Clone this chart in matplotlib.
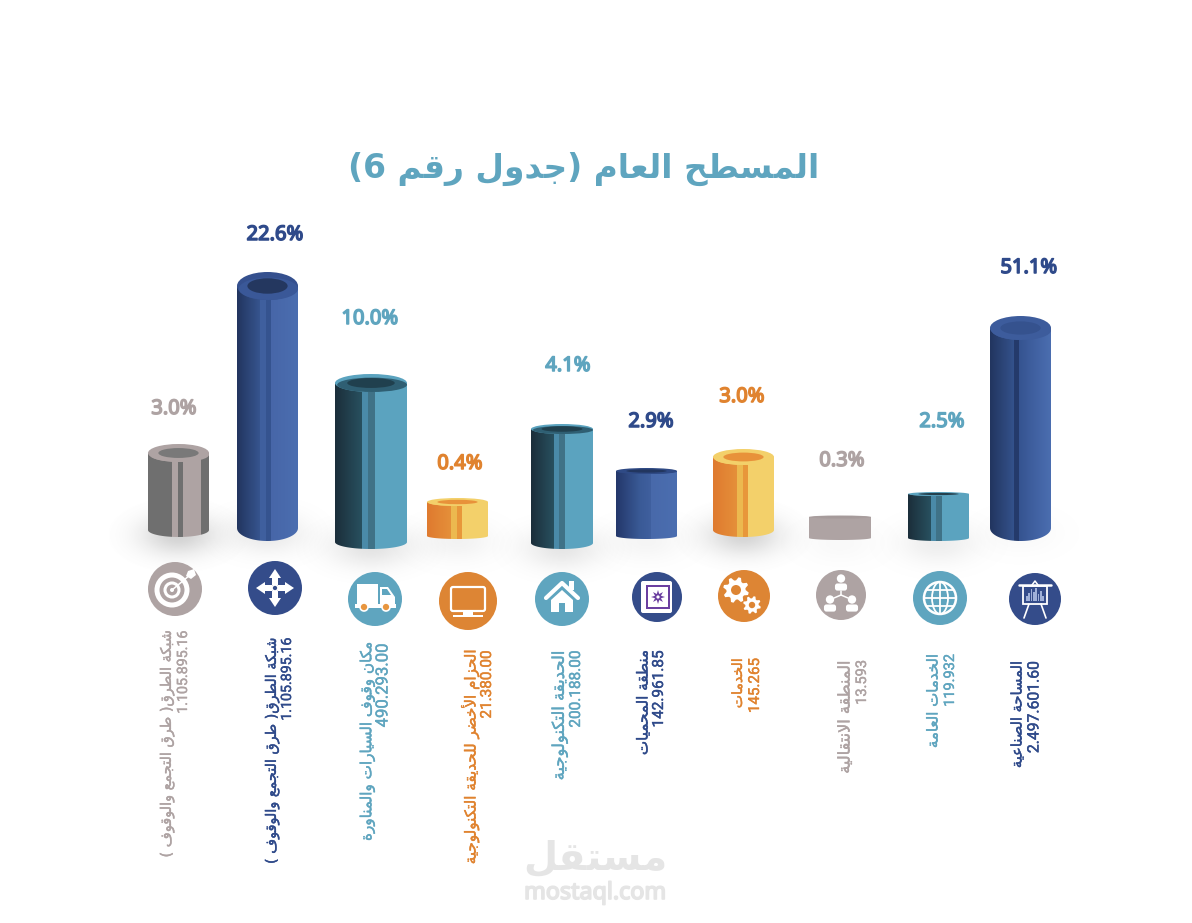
import re
import numpy as np
import matplotlib
matplotlib.use('Agg')
import matplotlib.pyplot as plt
import matplotlib.patheffects as pe
from matplotlib.colors import to_rgb
from matplotlib.patches import Circle, Ellipse, Polygon, Rectangle, FancyBboxPatch

# chart values
names = ['شبكة الطرق( طرق التجمع والوقوف )', 'شبكة الطرق( طرق التجمع والوقوف )',
         'مكان وقوف السيارات والمناورة', 'الحزام الأخضر للحديقة التكنولوجية',
         'الحديقة التكنولوجية', 'منطقة المحميات', 'الخدمات',
         'المنطقة الانتقالية', 'الخدمات العامة', 'المساحة الصناعية']
amounts = ['1.105.895.16', '1.105.895.16', '490.293.00', '21.380.00', '200.188.00',
           '142.961.85', '145.265', '13.593', '119.932', '2.497.601.60']
percents = ['3.0%', '22.6%', '10.0%', '0.4%', '4.1%', '2.9%', '3.0%', '0.3%', '2.5%', '51.1%']
# drawn column heights, these do not follow the percentages
column_heights = [77, 242, 159, 34, 114, 65, 73, 21, 44, 200]
families = ['gray', 'navy', 'teal', 'orange', 'teal', 'navy', 'orange', 'gray', 'teal', 'navy']

# column layout
col_left = [148, 237, 335, 427, 531, 616, 713, 809, 908, 990]
col_right = [209, 298, 407, 488, 593, 677, 774, 871, 969, 1051]
col_base = [530, 528, 542, 536, 543, 536, 530, 538, 538, 528]
cap_ry = [9, 14, 9, 4, 5, 3, 8, 1.5, 2, 12]
base_ry = [7, 13, 7, 3, 6, 3, 7, 2, 3, 13]
shadow_alpha = [.36, .18, .22, .1, .2, .08, .34, .05, .14, .05]

# label layout
pct_x = [174, 275, 370, 460, 568, 651, 742, 842, 942, 1029]
pct_y = [409, 235, 319, 464, 366, 422, 397, 461, 422, 268]
icon_x = [175, 275, 375, 468, 562, 657, 744, 841, 940, 1035]
icon_y = [589, 588, 599, 601, 599, 597, 596, 595, 598, 599]
icon_r = [27, 27, 27, 29, 27, 25, 26, 25, 27, 26]
name_x = [167, 272, 367, 470, 560, 643, 738, 845, 933, 1017]
amount_x = [183, 287, 383, 487, 576, 659, 755, 862, 950, 1034]
label_top = [630, 637, 643, 650, 650, 650, 658, 660, 654, 661]
name_len = [227, 226, 199, 215, 130, 105, 50, 113, 94, 107]
amount_len = [83, 83, 84, 68, 77, 77, 55, 45, 53, 92]

label_colors = {'gray': '#aea3a3', 'navy': '#2f4a8a', 'teal': '#5fa5bf', 'orange': '#e0832f'}
icon_colors = {'gray': '#aea3a3', 'navy': '#344c8a', 'teal': '#5fa5bf', 'orange': '#dd8534'}

# side shading per column as (fraction of width, colour)
NAVY = [(0, '#22355f'), (.38, '#37558f'), (.38, '#3f5f9e'), (.48, '#3f5f9e'), (.48, '#35538f'),
        (.56, '#35538f'), (.56, '#4766a8'), (1, '#4b6eb0')]
NAVY_SOFT = [(0, '#23376a'), (.39, '#3a5a96'), (.5, '#3d5d9b'), (.57, '#40609f'), (.57, '#4869aa'), (1, '#4b6eb0')]
NAVY_LINE = [(0, '#22355f'), (.39, '#34528c'), (.39, '#243a6b'), (.47, '#243a6b'), (.47, '#35538f'),
             (.7, '#3f5f9f'), (1, '#4b6eb0')]
TEAL = [(0, '#1b2e3a'), (.37, '#28505f'), (.37, '#4a8aa8'), (.46, '#4a8aa8'), (.46, '#3f7287'),
        (.555, '#3f7287'), (.555, '#5ba3bf'), (1, '#5ba3bf')]
GRAY = [(0, '#6f6f6f'), (.4, '#6f6f6f'), (.4, '#aea3a3'), (.49, '#aea3a3'), (.49, '#6f6f6f'),
        (.58, '#6f6f6f'), (.58, '#aea3a3'), (.87, '#aea3a3'), (.87, '#6f6f6f'), (1, '#6f6f6f')]
FLAT_GRAY = [(0, '#aea3a3'), (1, '#aea3a3')]
ORANGE = [(0, '#df7a2f'), (.4, '#e5903a'), (.4, '#ecb94f'), (.49, '#ecb94f'), (.49, '#e8973a'),
          (.58, '#e8973a'), (.58, '#f3d06a'), (1, '#f3d06a')]
shades = [GRAY, NAVY, TEAL, ORANGE, TEAL, NAVY_SOFT, ORANGE, FLAT_GRAY, TEAL, NAVY_LINE]
# cap rim, cap hole and front of the rim per column
caps = [('#aea3a3', '#797979', '#aea3a3'), ('#35508e', '#24375f', '#3a5898'), ('#5ba3bf', '#20404e', '#2f5f73'),
        ('#f3d06a', '#e8923a', '#f3d06a'), ('#5ba3bf', '#20404e', '#2f5f73'), ('#2f4a85', '#22365f', '#2f4a85'),
        ('#f3d06a', '#e8923a', '#f3d06a'), ('#a89d9d', '#a59a9a', '#a89d9d'), ('#5ba3bf', '#25404d', '#5ba3bf'),
        ('#3d5c9c', '#35528e', '#3d5c9c')]

# DejaVu only has the presentation forms, so the words get shaped by hand
FORM_START = {'ا': (0xFE8D, 2), 'أ': (0xFE83, 2), 'ب': (0xFE8F, 4), 'ة': (0xFE93, 2), 'ت': (0xFE95, 4),
              'ج': (0xFE9D, 4), 'ح': (0xFEA1, 4), 'خ': (0xFEA5, 4), 'د': (0xFEA9, 2), 'ذ': (0xFEAB, 2),
              'ر': (0xFEAD, 2), 'ز': (0xFEAF, 2), 'س': (0xFEB1, 4), 'ش': (0xFEB5, 4), 'ص': (0xFEB9, 4),
              'ض': (0xFEBD, 4), 'ط': (0xFEC1, 4), 'ع': (0xFEC9, 4), 'ف': (0xFED1, 4), 'ق': (0xFED5, 4),
              'ك': (0xFED9, 4), 'ل': (0xFEDD, 4), 'م': (0xFEE1, 4), 'ن': (0xFEE5, 4), 'و': (0xFEED, 2),
              'ي': (0xFEF1, 4)}
LAM_ALEF = {'ا': 0xFEFB, 'أ': 0xFEF7}


def arabic(text):
    out = []
    i = 0
    while i < len(text):
        ch = text[i]
        if ch not in FORM_START:
            out.append(ch)
            i += 1
            continue
        prev = text[i - 1] if i else ' '
        joined = prev in FORM_START and FORM_START[prev][1] == 4
        nxt = text[i + 1] if i + 1 < len(text) else ' '
        if ch == 'ل' and nxt in LAM_ALEF:
            out.append(chr(LAM_ALEF[nxt] + joined))
            i += 2
            continue
        start, count = FORM_START[ch]
        if count == 2 or nxt not in FORM_START:
            form = 1 if joined else 0
        else:
            form = 3 if joined else 2
        out.append(chr(start + form))
        i += 1
    shaped = ''.join(reversed(out)).translate(str.maketrans('()', ')('))
    return re.sub(r'\d+', lambda m: m.group()[::-1], shaped)


fig = plt.figure(figsize=(11.92, 9.23), dpi=100, facecolor='white')
ax = fig.add_axes([0, 0, 1, 1])
ax.set_xlim(0, 1192)
ax.set_ylim(923, 0)
ax.set_autoscale_on(False)
ax.axis('off')
renderer = fig.canvas.get_renderer()


def fit(t, length, vertical=False):
    bb = t.get_window_extent(renderer)
    t.set_fontsize(t.get_fontsize() * length / (bb.height if vertical else bb.width))


def heavier(t, width, color):
    t.set_path_effects([pe.withStroke(linewidth=width, foreground=color)])


def profile(stops):
    fr = [s[0] for s in stops]
    cols = np.array([to_rgb(s[1]) for s in stops])
    xs = np.linspace(0, 1, 240)
    return np.stack([np.interp(xs, fr, cols[:, k]) for k in range(3)], axis=1)[None, :, :]


def soft_shadow(cx, cy, rx, ry, alpha):
    yy, xx = np.mgrid[-1:1:120j, -1:1:200j]
    fall = np.exp(-(xx ** 2 + yy ** 2) * 3.6)
    fall[xx ** 2 + yy ** 2 > 1] = 0
    img = np.zeros(fall.shape + (4,))
    img[..., :3] = .52
    img[..., 3] = fall * alpha
    ax.imshow(img, extent=(cx - rx, cx + rx, cy + ry, cy - ry), aspect='auto', zorder=1, interpolation='bilinear')


def column(i):
    x0, x1 = col_left[i], col_right[i]
    cx, rx = (x0 + x1) / 2, (x1 - x0) / 2
    by = col_base[i]
    cy = by - column_heights[i]
    soft_shadow(cx, by + 5, rx + 40, 38, shadow_alpha[i])

    t = np.linspace(0, np.pi, 60)
    arc = np.column_stack([cx - rx * np.cos(t), by + base_ry[i] * np.sin(t)])
    pts = np.vstack([[x0, cy], arc, [x1, cy]])
    clip = Polygon(pts, closed=True, fc='none', ec='none', transform=ax.transData)
    ax.add_patch(clip)
    im = ax.imshow(profile(shades[i]), extent=(x0, x1, by + base_ry[i] + 1, cy), aspect='auto', zorder=2,
                   interpolation='nearest')
    im.set_clip_path(clip)

    rim, hole, front = caps[i]
    ry = cap_ry[i]
    ax.add_patch(Ellipse((cx, cy), 2 * rx, 2 * ry, fc=rim, ec='none', zorder=3))
    ax.add_patch(Ellipse((cx + rx * .03, cy + ry * .2), 2 * rx * .97, 2 * ry * .8, fc=front, ec='none', zorder=3.5))
    ax.add_patch(Ellipse((cx, cy), 1.32 * rx, 1.1 * ry, fc=hole, ec='none', zorder=4))


# icon glyphs, all white unless noted, drawn around the icon centre
def ring(cx, cy, r, lw):
    ax.add_patch(Circle((cx, cy), r, fc='none', ec='white', lw=lw, zorder=6))


def fill(pts, color='white'):
    ax.add_patch(Polygon(pts, closed=True, fc=color, ec='none', zorder=6))


def box(x, y, w, h, color='white'):
    ax.add_patch(Rectangle((x, y), w, h, fc=color, ec='none', zorder=6))


def line(xs, ys, lw=1.4, color='white'):
    ax.plot(xs, ys, color=color, lw=lw, zorder=6, solid_capstyle='round')


def gear(cx, cy, r, teeth, hole):
    ang = np.linspace(0, 2 * np.pi, teeth * 4, endpoint=False) + .2
    rad = np.tile([r, r, r * .74, r * .74], teeth)
    fill(np.column_stack([cx + rad * np.cos(ang), cy + rad * np.sin(ang)]))
    ax.add_patch(Circle((cx, cy), hole, fc='#dd8534', ec='none', zorder=7))


def person(cx, cy, s):
    ax.add_patch(Circle((cx, cy - 5 * s), 3.8 * s, fc='white', ec='none', zorder=6))
    ax.add_patch(FancyBboxPatch((cx - 5.5 * s, cy - .5 * s), 11 * s, 6.5 * s, boxstyle='round,pad=0,rounding_size=2.5',
                                fc='white', ec='none', zorder=6))


def icon_target(x, y):
    ring(x - 3, y + 1, 15, 3.6)
    ring(x - 3, y + 1, 7, 2.2)
    ax.add_patch(Circle((x - 3, y + 1), 2, fc='white', ec='none', zorder=6))
    line([x - 3, x + 15], [y + 1, y - 14], lw=1.1)
    fill([(x + 13, y - 18), (x + 19, y - 20), (x + 21, y - 14), (x + 16, y - 10), (x + 11, y - 13)])


def icon_arrows(x, y):
    for dx, dy in [(1, 0), (-1, 0), (0, 1), (0, -1)]:
        px, py = -dy, dx
        tip = (x + 19 * dx, y + 19 * dy)
        fill([tip, (x + 10 * dx + 6 * px, y + 10 * dy + 6 * py), (x + 10 * dx - 6 * px, y + 10 * dy - 6 * py)])
        fill([(x + 3 * dx + 3 * px, y + 3 * dy + 3 * py), (x + 11 * dx + 3 * px, y + 11 * dy + 3 * py),
              (x + 11 * dx - 3 * px, y + 11 * dy - 3 * py), (x + 3 * dx - 3 * px, y + 3 * dy - 3 * py)])
    ring(x, y, 3, 1.2)


def icon_truck(x, y):
    box(x - 18, y - 15, 21, 20)
    fill([(x + 5, y - 12), (x + 13, y - 12), (x + 20, y - 2), (x + 20, y + 6), (x + 5, y + 6)])
    fill([(x + 7, y - 10), (x + 12, y - 10), (x + 16, y - 4), (x + 7, y - 4)], '#5fa5bf')
    box(x - 20, y + 5, 41, 4)
    for wx in (x - 11, x + 11):
        ax.add_patch(Circle((wx, y + 8), 4, fc='#e8963f', ec='white', lw=1.2, zorder=7))


def icon_monitor(x, y):
    ax.add_patch(FancyBboxPatch((x - 17, y - 14), 34, 24, boxstyle='round,pad=0,rounding_size=2',
                                fc='none', ec='white', lw=1.6, zorder=6))
    box(x - 5, y + 10, 10, 4)
    box(x - 15, y + 14, 30, 2.4)


def icon_house(x, y):
    line([x - 16, x, x + 16], [y - 1, y - 16, y - 1], lw=3)
    box(x + 7, y - 18, 5, 9)
    fill([(x - 11, y + 1), (x, y - 9), (x + 11, y + 1), (x + 11, y + 13), (x + 3, y + 13), (x + 3, y + 4),
          (x - 3, y + 4), (x - 3, y + 13), (x - 11, y + 13)])


def icon_safe(x, y):
    ax.add_patch(FancyBboxPatch((x - 16, y - 16), 31, 32, boxstyle='round,pad=0,rounding_size=2',
                                fc='white', ec='none', zorder=6))
    box(x - 11, y - 12, 24, 24, '#6b3fa0')
    box(x - 9, y - 10, 20, 20, 'white')
    ang = np.linspace(0, 2 * np.pi, 16, endpoint=False)
    rad = np.tile([7, 3.2], 8)
    fill(np.column_stack([x + 1 + rad * np.cos(ang), y + rad * np.sin(ang)]), '#6b3fa0')
    ax.add_patch(Circle((x + 1, y), 1.6, fc='white', ec='none', zorder=7))


def icon_gears(x, y):
    gear(x - 8, y - 6, 13, 8, 5)
    gear(x + 8, y + 9, 9, 8, 3.2)


def icon_people(x, y):
    person(x, y - 11, 1.1)
    person(x - 11, y + 10, 1.1)
    person(x + 11, y + 10, 1.1)
    line([x, x, x - 7], [y - 4, y, y + 3], lw=1.1)
    line([x, x + 7], [y, y + 3], lw=1.1)


def icon_globe(x, y):
    r = 16
    ax.add_patch(Ellipse((x, y), 2 * r, 2 * r, fc='none', ec='white', lw=1.8, zorder=6))
    ax.add_patch(Ellipse((x, y), r, 2 * r, fc='none', ec='white', lw=1.3, zorder=6))
    line([x, x], [y - r, y + r], lw=1.3)
    line([x - r, x + r], [y, y], lw=1.3)
    line([x - 13, x + 13], [y - 8, y - 8], lw=1.3)
    line([x - 13, x + 13], [y + 8, y + 8], lw=1.3)


def icon_board(x, y):
    line([x - 16, x + 16], [y - 14, y - 14], lw=1.8)
    ax.add_patch(Rectangle((x - 12, y - 13), 24, 18, fc='none', ec='white', lw=1.3, zorder=6))
    for k, h in enumerate([5, 8, 12, 9, 13, 7, 10, 5]):
        box(x - 9 + k * 2.3, y + 2 - h, 1.8, h, '#9fb0d8')
    line([x - 6, x - 11], [y + 5, y + 19], lw=1.2)
    line([x + 6, x + 11], [y + 5, y + 19], lw=1.2)
    line([x - 3, x, x + 3], [y - 14, y - 18, y - 14], lw=1.1)


icon_draw = [icon_target, icon_arrows, icon_truck, icon_monitor, icon_house,
             icon_safe, icon_gears, icon_people, icon_globe, icon_board]

title = ax.text(583.5, 169, arabic('المسطح العام (جدول رقم 6)'), color='#5fa5bf', fontsize=30,
                family='DejaVu Sans', weight='bold', ha='center', va='center', zorder=8)
fit(title, 469)

for i in range(len(percents)):
    column(i)
    fam = families[i]
    col = label_colors[fam]
    pct = ax.text(pct_x[i], pct_y[i], percents[i], color=col, fontsize=14.5, family='Noto Sans',
                  ha='center', va='center', zorder=8)
    heavier(pct, 1.1, col)
    ax.add_patch(Circle((icon_x[i], icon_y[i]), icon_r[i], fc=icon_colors[fam], ec='none', zorder=5))
    icon_draw[i](icon_x[i], icon_y[i])
    nm = ax.text(name_x[i], label_top[i], arabic(names[i]), color=col, fontsize=10, family='DejaVu Sans',
                 rotation=90, ha='center', va='top', zorder=8)
    fit(nm, name_len[i], vertical=True)
    heavier(nm, .3, col)
    am = ax.text(amount_x[i], label_top[i], amounts[i], color=col, fontsize=10.5, family='Roboto',
                 rotation=90, ha='center', va='top', zorder=8)
    fit(am, amount_len[i], vertical=True)
    heavier(am, .3, col)

# faint site mark at the bottom
mark = ax.text(595, 859, arabic('مستقل'), color='#e5e5e5', fontsize=40, family='DejaVu Sans', weight='bold',
               ha='center', va='center', zorder=8)
fit(mark, 144)
site = ax.text(595, 893, 'mostaql.com', color='#e5e5e5', fontsize=16, family='Noto Sans',
               ha='center', va='center', zorder=8)
fit(site, 142)
heavier(site, 1.2, '#e5e5e5')

fig.savefig('out.png', dpi=100)
